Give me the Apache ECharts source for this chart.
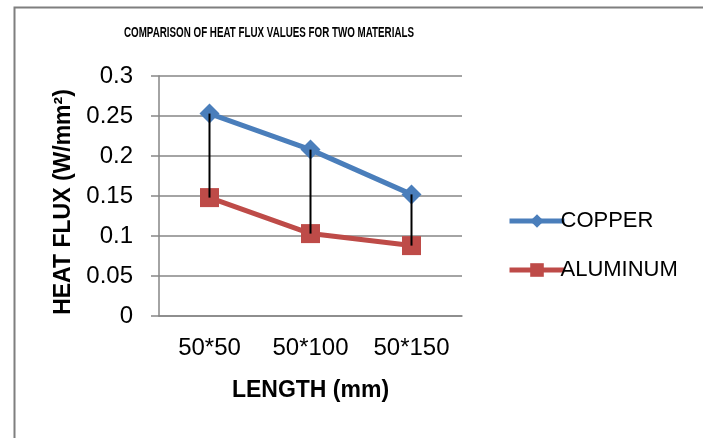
<!DOCTYPE html>
<html>
<head>
<meta charset="utf-8">
<script src="https://cdn.jsdelivr.net/npm/echarts@6/dist/echarts.min.js"></script>
<style>
html,body{margin:0;padding:0;background:#fff;}
#c{width:703px;height:438px;}
</style>
</head>
<body>
<div id="c"></div>
<script>
const categories = ['50*50', '50*100', '50*150'];
const copper = [0.253, 0.208, 0.152];
const aluminum = [0.148, 0.103, 0.088];
const titleText = 'COMPARISON OF HEAT FLUX VALUES FOR TWO MATERIALS';

const sans = "'Liberation Sans', Arial, sans-serif";

const chart = echarts.init(document.getElementById('c'), null, {renderer: 'canvas'});
const dropData = categories.map((c, i) => [i, copper[i], aluminum[i]]);

chart.setOption({
  animation: false,
  backgroundColor: '#fff',
  graphic: [
    {
      type: 'rect', left: 12, top: 5,
      shape: {width: 720, height: 460},
      style: {fill: 'none', stroke: '#7f7f7f', lineWidth: 2}
    },
    {
      type: 'text', x: 269, y: 33, scaleX: 0.7,
      style: {text: titleText, font: 'bold 14px ' + sans, fill: '#000',
        align: 'center', verticalAlign: 'middle'}
    }
  ],
  legend: {
    orient: 'vertical', left: 502, top: 204,
    itemWidth: 55, itemHeight: 17, itemGap: 25,
    data: ['COPPER', 'ALUMINUM'],
    lineStyle: {width: 5},
    textStyle: {fontFamily: sans, fontSize: 22, lineHeight: 24, color: '#000', padding: [0, 0, 0, -9]}
  },
  grid: {left: 159, right: 241, top: 76, bottom: 122, containLabel: false},
  xAxis: {
    type: 'category', data: categories, boundaryGap: true,
    name: 'LENGTH (mm)', nameLocation: 'middle', nameGap: 63,
    nameTextStyle: {fontFamily: sans, fontWeight: 'bold', fontSize: 23, color: '#000'},
    axisLine: {lineStyle: {color: '#868686', width: 1.5}},
    axisTick: {show: false},
    axisLabel: {fontFamily: sans, fontSize: 24, color: '#000', margin: 20}
  },
  yAxis: {
    type: 'value', min: 0, max: 0.3, interval: 0.05,
    name: 'HEAT FLUX (W/mm²)', nameLocation: 'middle', nameGap: 84,
    nameTextStyle: {fontFamily: sans, fontWeight: 'bold', fontSize: 23, color: '#000', padding: [0, 12, 0, 0]},
    axisLine: {show: true, lineStyle: {color: '#868686', width: 1.5}},
    axisTick: {show: true, length: 8, lineStyle: {color: '#868686', width: 1.5}},
    splitLine: {lineStyle: {color: '#868686', width: 1.5}},
    axisLabel: {fontFamily: sans, fontSize: 24, color: '#000', margin: 26,
      formatter: v => String(parseFloat(v.toFixed(2)))}
  },
  series: [
    {
      name: 'COPPER', type: 'line', data: copper, z: 3,
      symbol: 'diamond', symbolSize: 20,
      lineStyle: {color: '#4A7EBB', width: 5},
      itemStyle: {color: '#4A7EBB'}
    },
    {
      name: 'ALUMINUM', type: 'line', data: aluminum, z: 3,
      symbol: 'rect', symbolSize: 19,
      lineStyle: {color: '#BE4B48', width: 5},
      itemStyle: {color: '#BE4B48'}
    },
    {
      type: 'custom', z: 5, data: dropData,
      encode: {x: 0, y: [1, 2]},
      renderItem: function (params, api) {
        const a = api.coord([api.value(0), api.value(1)]);
        const b = api.coord([api.value(0), api.value(2)]);
        return {type: 'line', shape: {x1: a[0], y1: a[1], x2: b[0], y2: b[1]},
          style: {stroke: '#000', lineWidth: 2}};
      },
      silent: true
    }
  ]
});
</script>
</body>
</html>
